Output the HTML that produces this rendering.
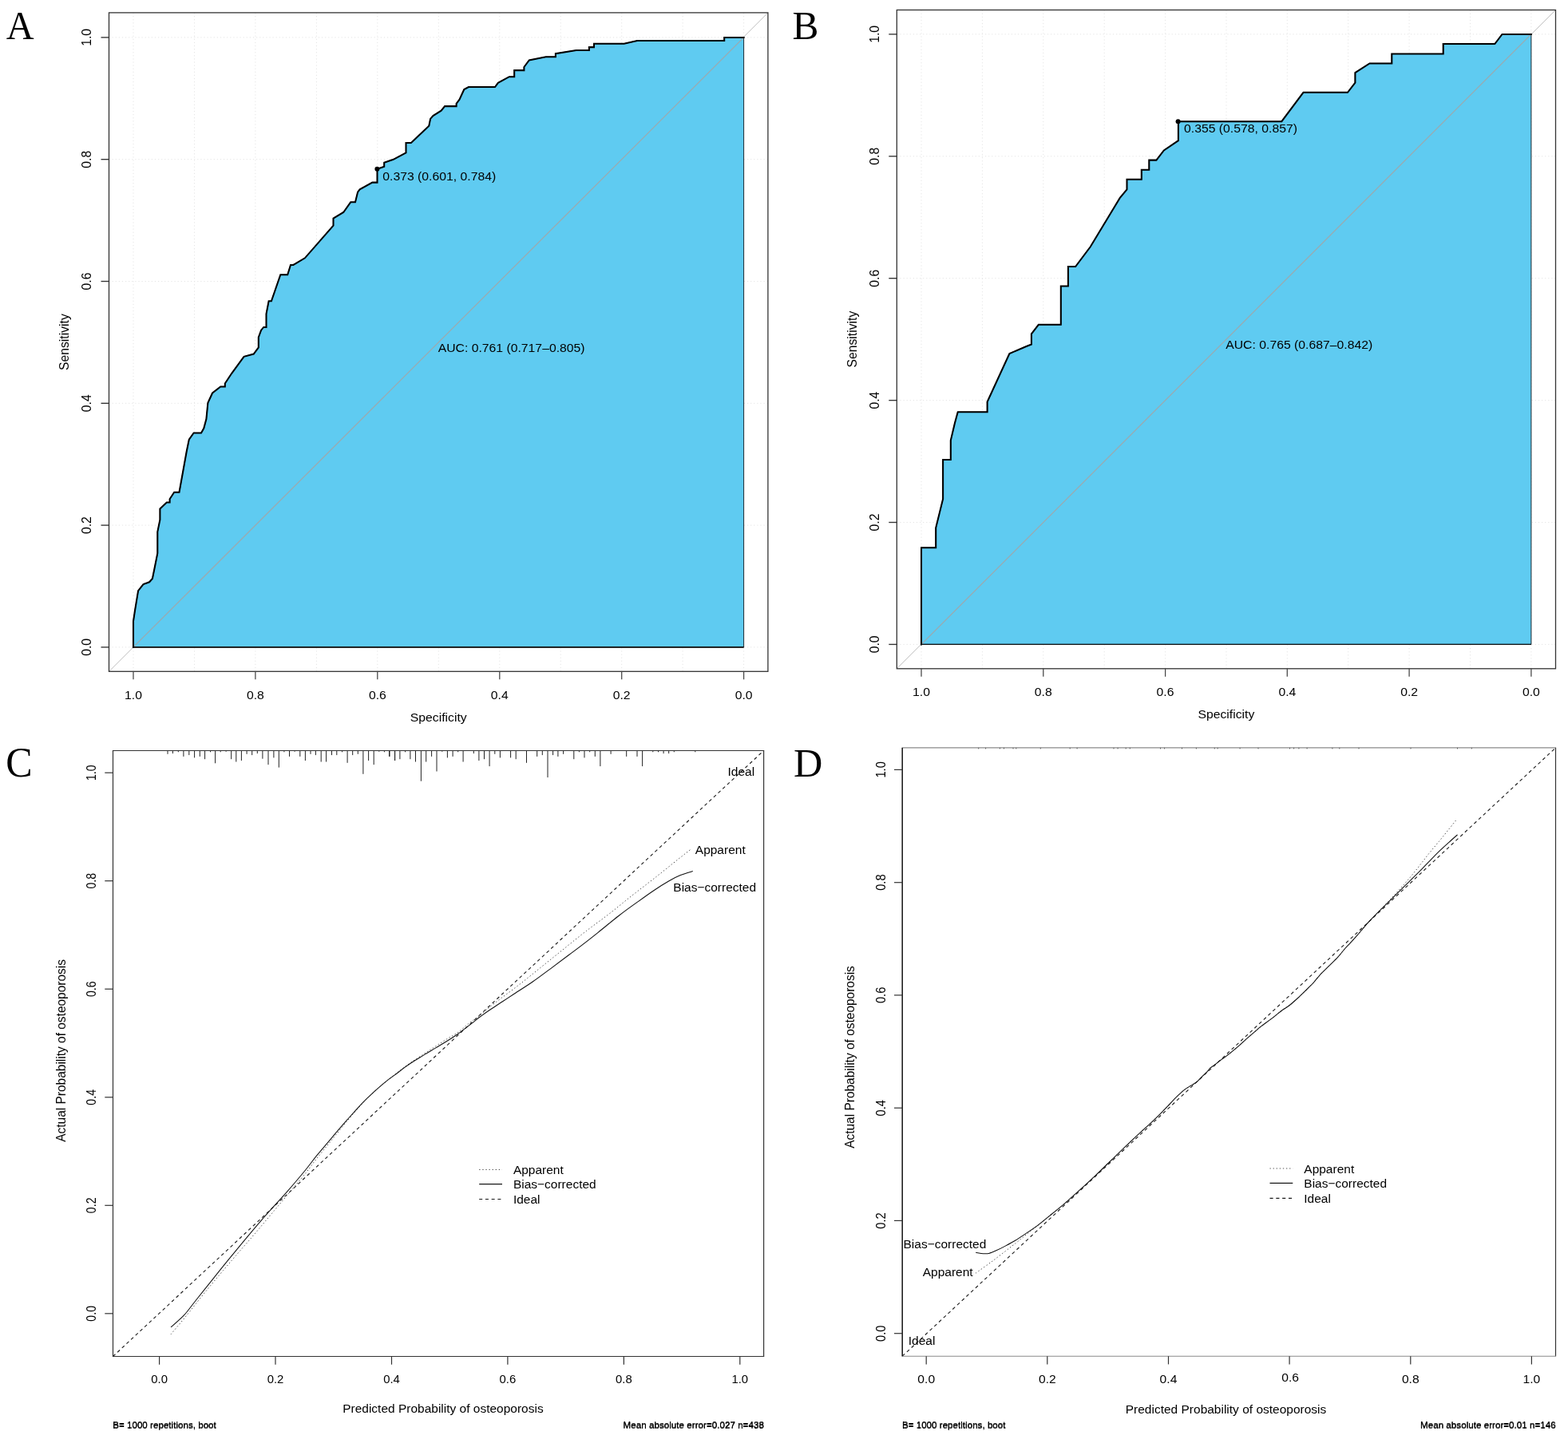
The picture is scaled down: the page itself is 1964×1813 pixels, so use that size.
<!DOCTYPE html>
<html lang="en">
<head>
<meta charset="utf-8">
<title>ROC curves and calibration plots</title>
<style>
html,body{margin:0;padding:0;background:#fff;}
body{width:1964px;height:1813px;overflow:hidden;}
svg{display:block;}
svg text{white-space:pre;}
</style>
</head>
<body>
<svg width="1964" height="1813" viewBox="0 0 1964 1813" font-family='"Liberation Sans", sans-serif' font-size="15">
<rect width="1964" height="1813" fill="#fff"/>
<g class="roc">
<path d="M167.0 15.9V841.3M243.5 15.9V841.3M319.9 15.9V841.3M396.4 15.9V841.3M472.8 15.9V841.3M549.3 15.9V841.3M625.8 15.9V841.3M702.2 15.9V841.3M778.7 15.9V841.3M855.1 15.9V841.3M931.6 15.9V841.3M136.5 810.9H961.9M136.5 658.1H961.9M136.5 505.3H961.9M136.5 352.5H961.9M136.5 199.7H961.9M136.5 46.9H961.9" stroke="#e4e4e4" stroke-width="1" stroke-dasharray="1.2 2.9" fill="none"/>
<line x1="136.5" y1="841.3" x2="961.9" y2="15.9" stroke="#bdbdbd" stroke-width="0.95"/>
<polygon points="167.0,810.9 167.0,778.4 169.3,763.1 173.1,740.2 179.5,732.1 187.1,729.3 190.9,725.0 193.5,712.2 197.3,693.1 197.3,666.4 200.4,651.1 200.4,637.4 208.8,629.5 212.6,629.5 212.6,625.2 218.2,616.8 224.5,616.8 229.1,591.3 233.7,565.8 236.8,550.6 242.6,542.4 252.0,542.4 255.3,536.6 258.4,525.1 260.4,504.7 266.0,492.5 276.2,484.4 281.8,484.4 281.8,480.5 290.2,467.8 305.5,446.8 317.7,443.5 323.8,435.3 323.8,422.6 327.1,413.7 330.2,409.9 333.5,409.9 333.5,393.3 336.6,377.3 339.9,377.3 351.3,344.2 360.2,344.2 364.0,332.0 367.4,332.0 381.9,323.3 417.5,282.6 417.5,273.7 430.2,266.0 439.2,253.3 445.0,253.3 448.1,240.6 450.6,237.3 466.4,228.6 472.5,228.6 472.5,211.8 481.2,208.8 481.2,203.7 492.7,199.8 508.5,191.4 508.5,179.0 514.9,179.0 537.3,157.8 539.1,148.9 542.4,145.1 552.6,138.7 557.1,133.1 571.6,133.1 571.6,129.8 575.5,124.7 581.3,112.0 586.9,109.0 620.0,109.0 623.8,103.9 637.8,96.2 644.2,96.2 644.2,88.1 656.4,88.1 656.4,84.0 662.8,75.4 683.7,71.3 695.9,71.3 695.9,67.2 721.8,62.9 737.9,62.9 737.9,59.1 744.0,59.1 744.0,54.7 781.7,54.7 798.2,50.9 907.2,50.9 907.2,46.9 931.6,46.9 931.6,810.9" fill="#5fcbf1" stroke="#1a2a33" stroke-width="1"/>
<line x1="167.0" y1="810.9" x2="931.6" y2="46.9" stroke="#9aaab0" stroke-width="1.3"/>
<line x1="167.0" y1="810.9" x2="931.6" y2="810.9" stroke="#111" stroke-width="1.6"/>
<polyline points="167.0,810.9 167.0,778.4 169.3,763.1 173.1,740.2 179.5,732.1 187.1,729.3 190.9,725.0 193.5,712.2 197.3,693.1 197.3,666.4 200.4,651.1 200.4,637.4 208.8,629.5 212.6,629.5 212.6,625.2 218.2,616.8 224.5,616.8 229.1,591.3 233.7,565.8 236.8,550.6 242.6,542.4 252.0,542.4 255.3,536.6 258.4,525.1 260.4,504.7 266.0,492.5 276.2,484.4 281.8,484.4 281.8,480.5 290.2,467.8 305.5,446.8 317.7,443.5 323.8,435.3 323.8,422.6 327.1,413.7 330.2,409.9 333.5,409.9 333.5,393.3 336.6,377.3 339.9,377.3 351.3,344.2 360.2,344.2 364.0,332.0 367.4,332.0 381.9,323.3 417.5,282.6 417.5,273.7 430.2,266.0 439.2,253.3 445.0,253.3 448.1,240.6 450.6,237.3 466.4,228.6 472.5,228.6 472.5,211.8 481.2,208.8 481.2,203.7 492.7,199.8 508.5,191.4 508.5,179.0 514.9,179.0 537.3,157.8 539.1,148.9 542.4,145.1 552.6,138.7 557.1,133.1 571.6,133.1 571.6,129.8 575.5,124.7 581.3,112.0 586.9,109.0 620.0,109.0 623.8,103.9 637.8,96.2 644.2,96.2 644.2,88.1 656.4,88.1 656.4,84.0 662.8,75.4 683.7,71.3 695.9,71.3 695.9,67.2 721.8,62.9 737.9,62.9 737.9,59.1 744.0,59.1 744.0,54.7 781.7,54.7 798.2,50.9 907.2,50.9 907.2,46.9 931.6,46.9" fill="none" stroke="#000" stroke-width="2.05" stroke-linejoin="miter" stroke-linecap="square"/>
<rect x="136.5" y="15.9" width="825.4" height="825.4" fill="none" stroke="#333" stroke-width="1.3"/>
<line x1="167.0" y1="841.3" x2="167.0" y2="851.3" stroke="#444" stroke-width="1.25"/>
<text transform="translate(167.00 875.90) scale(1.0170 1)" font-size="15.5" text-anchor="middle" fill="#000">1.0</text>
<line x1="319.9" y1="841.3" x2="319.9" y2="851.3" stroke="#444" stroke-width="1.25"/>
<text transform="translate(319.92 875.90) scale(1.0170 1)" font-size="15.5" text-anchor="middle" fill="#000">0.8</text>
<line x1="472.8" y1="841.3" x2="472.8" y2="851.3" stroke="#444" stroke-width="1.25"/>
<text transform="translate(472.84 875.90) scale(1.0170 1)" font-size="15.5" text-anchor="middle" fill="#000">0.6</text>
<line x1="625.8" y1="841.3" x2="625.8" y2="851.3" stroke="#444" stroke-width="1.25"/>
<text transform="translate(625.76 875.90) scale(1.0170 1)" font-size="15.5" text-anchor="middle" fill="#000">0.4</text>
<line x1="778.7" y1="841.3" x2="778.7" y2="851.3" stroke="#444" stroke-width="1.25"/>
<text transform="translate(778.68 875.90) scale(1.0170 1)" font-size="15.5" text-anchor="middle" fill="#000">0.2</text>
<line x1="931.6" y1="841.3" x2="931.6" y2="851.3" stroke="#444" stroke-width="1.25"/>
<text transform="translate(931.60 875.90) scale(1.0170 1)" font-size="15.5" text-anchor="middle" fill="#000">0.0</text>
<line x1="126.5" y1="810.9" x2="136.5" y2="810.9" stroke="#333" stroke-width="1.35"/>
<text transform="translate(114.00 810.90) rotate(-90) scale(0.9850 1)" font-size="16.0" text-anchor="middle" fill="#000">0.0</text>
<line x1="126.5" y1="658.1" x2="136.5" y2="658.1" stroke="#333" stroke-width="1.35"/>
<text transform="translate(114.00 658.10) rotate(-90) scale(0.9850 1)" font-size="16.0" text-anchor="middle" fill="#000">0.2</text>
<line x1="126.5" y1="505.3" x2="136.5" y2="505.3" stroke="#333" stroke-width="1.35"/>
<text transform="translate(114.00 505.30) rotate(-90) scale(0.9850 1)" font-size="16.0" text-anchor="middle" fill="#000">0.4</text>
<line x1="126.5" y1="352.5" x2="136.5" y2="352.5" stroke="#333" stroke-width="1.35"/>
<text transform="translate(114.00 352.50) rotate(-90) scale(0.9850 1)" font-size="16.0" text-anchor="middle" fill="#000">0.6</text>
<line x1="126.5" y1="199.7" x2="136.5" y2="199.7" stroke="#333" stroke-width="1.35"/>
<text transform="translate(114.00 199.70) rotate(-90) scale(0.9850 1)" font-size="16.0" text-anchor="middle" fill="#000">0.8</text>
<line x1="126.5" y1="46.9" x2="136.5" y2="46.9" stroke="#333" stroke-width="1.35"/>
<text transform="translate(114.00 46.90) rotate(-90) scale(0.9850 1)" font-size="16.0" text-anchor="middle" fill="#000">1.0</text>
<text transform="translate(549.20 903.80) scale(1.0170 1)" font-size="15.5" text-anchor="middle" fill="#000">Specificity</text>
<text transform="translate(86.30 428.60) rotate(-90) scale(0.9850 1)" font-size="16.0" text-anchor="middle" fill="#000">Sensitivity</text>
<circle cx="472.4" cy="211.8" r="3.0" fill="#000"/>
<text transform="translate(479.30 226.00) scale(1.0170 1)" font-size="15.5" fill="#000">0.373 (0.601, 0.784)</text>
<text transform="translate(640.60 440.60) scale(1.0170 1)" font-size="15.5" text-anchor="middle" fill="#000">AUC: 0.761 (0.717–0.805)</text>
</g>
<g class="roc">
<path d="M1154.0 12.5V837.8M1230.4 12.5V837.8M1306.8 12.5V837.8M1383.2 12.5V837.8M1459.6 12.5V837.8M1536.0 12.5V837.8M1612.3 12.5V837.8M1688.7 12.5V837.8M1765.1 12.5V837.8M1841.5 12.5V837.8M1917.9 12.5V837.8M1123.3 807.4H1948.5M1123.3 654.5H1948.5M1123.3 501.6H1948.5M1123.3 348.7H1948.5M1123.3 195.8H1948.5M1123.3 42.9H1948.5" stroke="#e4e4e4" stroke-width="1" stroke-dasharray="1.2 2.9" fill="none"/>
<line x1="1123.3" y1="837.8" x2="1948.5" y2="12.5" stroke="#bdbdbd" stroke-width="0.95"/>
<polygon points="1154.0,807.4 1154.0,686.3 1172.2,686.3 1172.2,661.3 1181.1,625.2 1181.1,576.0 1190.8,576.0 1190.8,551.8 1195.9,530.2 1199.7,516.2 1236.6,516.2 1236.6,503.5 1264.4,443.0 1285.5,434.0 1291.9,431.5 1291.9,418.3 1300.8,406.8 1328.8,406.8 1328.8,358.5 1337.9,358.5 1337.9,334.0 1347.1,334.0 1365.7,309.3 1402.6,248.2 1411.5,237.3 1411.5,224.8 1429.8,224.8 1429.8,212.8 1439.3,212.8 1439.3,200.6 1448.4,200.6 1457.8,188.4 1475.9,176.2 1475.9,152.2 1605.3,152.2 1632.5,115.8 1688.0,115.8 1697.4,103.6 1697.4,91.1 1715.5,79.4 1743.3,79.4 1743.3,67.5 1807.7,67.5 1807.7,55.0 1872.3,55.0 1881.5,42.9 1917.9,42.9 1917.9,807.4" fill="#5fcbf1" stroke="#1a2a33" stroke-width="1"/>
<line x1="1154.0" y1="807.4" x2="1917.9" y2="42.9" stroke="#9aaab0" stroke-width="1.3"/>
<line x1="1154.0" y1="807.4" x2="1917.9" y2="807.4" stroke="#111" stroke-width="1.2"/>
<polyline points="1154.0,807.4 1154.0,686.3 1172.2,686.3 1172.2,661.3 1181.1,625.2 1181.1,576.0 1190.8,576.0 1190.8,551.8 1195.9,530.2 1199.7,516.2 1236.6,516.2 1236.6,503.5 1264.4,443.0 1285.5,434.0 1291.9,431.5 1291.9,418.3 1300.8,406.8 1328.8,406.8 1328.8,358.5 1337.9,358.5 1337.9,334.0 1347.1,334.0 1365.7,309.3 1402.6,248.2 1411.5,237.3 1411.5,224.8 1429.8,224.8 1429.8,212.8 1439.3,212.8 1439.3,200.6 1448.4,200.6 1457.8,188.4 1475.9,176.2 1475.9,152.2 1605.3,152.2 1632.5,115.8 1688.0,115.8 1697.4,103.6 1697.4,91.1 1715.5,79.4 1743.3,79.4 1743.3,67.5 1807.7,67.5 1807.7,55.0 1872.3,55.0 1881.5,42.9 1917.9,42.9" fill="none" stroke="#000" stroke-width="2.05" stroke-linejoin="miter" stroke-linecap="square"/>
<rect x="1123.3" y="12.5" width="825.2" height="825.3" fill="none" stroke="#333" stroke-width="1.3"/>
<line x1="1154.0" y1="837.8" x2="1154.0" y2="847.8" stroke="#444" stroke-width="1.25"/>
<text transform="translate(1154.00 872.40) scale(1.0170 1)" font-size="15.5" text-anchor="middle" fill="#000">1.0</text>
<line x1="1306.8" y1="837.8" x2="1306.8" y2="847.8" stroke="#444" stroke-width="1.25"/>
<text transform="translate(1306.78 872.40) scale(1.0170 1)" font-size="15.5" text-anchor="middle" fill="#000">0.8</text>
<line x1="1459.6" y1="837.8" x2="1459.6" y2="847.8" stroke="#444" stroke-width="1.25"/>
<text transform="translate(1459.56 872.40) scale(1.0170 1)" font-size="15.5" text-anchor="middle" fill="#000">0.6</text>
<line x1="1612.3" y1="837.8" x2="1612.3" y2="847.8" stroke="#444" stroke-width="1.25"/>
<text transform="translate(1612.34 872.40) scale(1.0170 1)" font-size="15.5" text-anchor="middle" fill="#000">0.4</text>
<line x1="1765.1" y1="837.8" x2="1765.1" y2="847.8" stroke="#444" stroke-width="1.25"/>
<text transform="translate(1765.12 872.40) scale(1.0170 1)" font-size="15.5" text-anchor="middle" fill="#000">0.2</text>
<line x1="1917.9" y1="837.8" x2="1917.9" y2="847.8" stroke="#444" stroke-width="1.25"/>
<text transform="translate(1917.90 872.40) scale(1.0170 1)" font-size="15.5" text-anchor="middle" fill="#000">0.0</text>
<line x1="1113.3" y1="807.4" x2="1123.3" y2="807.4" stroke="#333" stroke-width="1.35"/>
<text transform="translate(1100.80 807.40) rotate(-90) scale(0.9850 1)" font-size="16.0" text-anchor="middle" fill="#000">0.0</text>
<line x1="1113.3" y1="654.5" x2="1123.3" y2="654.5" stroke="#333" stroke-width="1.35"/>
<text transform="translate(1100.80 654.50) rotate(-90) scale(0.9850 1)" font-size="16.0" text-anchor="middle" fill="#000">0.2</text>
<line x1="1113.3" y1="501.6" x2="1123.3" y2="501.6" stroke="#333" stroke-width="1.35"/>
<text transform="translate(1100.80 501.60) rotate(-90) scale(0.9850 1)" font-size="16.0" text-anchor="middle" fill="#000">0.4</text>
<line x1="1113.3" y1="348.7" x2="1123.3" y2="348.7" stroke="#333" stroke-width="1.35"/>
<text transform="translate(1100.80 348.70) rotate(-90) scale(0.9850 1)" font-size="16.0" text-anchor="middle" fill="#000">0.6</text>
<line x1="1113.3" y1="195.8" x2="1123.3" y2="195.8" stroke="#333" stroke-width="1.35"/>
<text transform="translate(1100.80 195.80) rotate(-90) scale(0.9850 1)" font-size="16.0" text-anchor="middle" fill="#000">0.8</text>
<line x1="1113.3" y1="42.9" x2="1123.3" y2="42.9" stroke="#333" stroke-width="1.35"/>
<text transform="translate(1100.80 42.90) rotate(-90) scale(0.9850 1)" font-size="16.0" text-anchor="middle" fill="#000">1.0</text>
<text transform="translate(1535.90 900.30) scale(1.0170 1)" font-size="15.5" text-anchor="middle" fill="#000">Specificity</text>
<text transform="translate(1073.10 425.15) rotate(-90) scale(0.9850 1)" font-size="16.0" text-anchor="middle" fill="#000">Sensitivity</text>
<circle cx="1475.6" cy="152.3" r="3.0" fill="#000"/>
<text transform="translate(1483.00 166.30) scale(1.0170 1)" font-size="15.5" fill="#000">0.355 (0.578, 0.857)</text>
<text transform="translate(1627.20 436.80) scale(1.0170 1)" font-size="15.5" text-anchor="middle" fill="#000">AUC: 0.765 (0.687–0.842)</text>
</g>
<g class="cal">
<path d="M210.0 940.5v4.3M216.4 940.5v3.6M223.3 940.5v1.8M229.9 940.5v7.4M236.8 940.5v5.6M243.6 940.5v8.9M250.3 940.5v7.4M256.6 940.5v10.7M263.5 940.5v1.8M269.6 940.5v15.8M276.2 940.5v1.8M283.1 940.5v1.3M289.7 940.5v10.7M295.8 940.5v14.0M302.4 940.5v12.5M309.1 940.5v4.3M315.7 940.5v5.6M322.3 940.5v3.6M328.9 940.5v10.2M336.0 940.5v17.6M342.9 940.5v8.9M349.3 940.5v21.1M355.9 940.5v1.8M362.5 940.5v7.4M369.1 940.5v1.3M375.8 940.5v7.4M382.4 940.5v12.5M389.0 940.5v4.3M395.4 940.5v5.6M402.2 940.5v14.0M408.6 940.5v14.0M415.5 940.5v5.6M421.8 940.5v5.6M428.5 940.5v1.8M435.1 940.5v15.3M441.7 940.5v5.6M448.3 940.5v4.3M454.9 940.5v29.3M461.6 940.5v12.5M468.2 940.5v17.6M474.8 940.5v1.3M481.4 940.5v1.8M488.0 940.5v7.4M494.7 940.5v12.5M487.6 940.5v7.4M494.5 940.5v12.5M500.9 940.5v10.7M507.5 940.5v1.8M513.9 940.5v10.7M520.5 940.5v14.0M527.4 940.5v38.2M533.7 940.5v14.0M540.6 940.5v7.4M547.0 940.5v26.0M553.8 940.5v1.3M560.4 940.5v8.9M567.1 940.5v7.4M573.7 940.5v1.8M580.1 940.5v14.0M593.3 940.5v3.6M599.9 940.5v12.5M606.5 940.5v10.7M613.1 940.5v19.6M619.8 940.5v4.3M626.4 940.5v8.9M639.6 940.5v8.9M646.2 940.5v10.7M659.5 940.5v15.3M672.7 940.5v7.4M679.3 940.5v5.6M686.0 940.5v33.6M692.6 940.5v5.6M698.9 940.5v7.4M705.6 940.5v4.3M718.8 940.5v10.7M725.4 940.5v1.8M732.0 940.5v8.9M738.7 940.5v1.8M745.3 940.5v7.4M751.9 940.5v19.6M765.1 940.5v4.3M784.7 940.5v7.4M798.0 940.5v7.4M804.6 940.5v19.6M817.8 940.5v1.8M824.5 940.5v1.8M831.1 940.5v3.6M837.7 940.5v3.6M844.3 940.5v1.8M870.8 940.5v1.8" stroke="#222" stroke-width="1" fill="none"/>
<line x1="141.5" y1="1699.5" x2="956.6" y2="940.5" stroke="#1a1a1a" stroke-width="1.1" stroke-dasharray="4.0 3.73" stroke-dashoffset="0"/>
<path d="M214.1 1671.7C217.0 1668.2 223.9 1660.2 231.4 1651.0C238.9 1641.8 248.9 1628.7 258.9 1616.5C268.9 1604.3 282.2 1588.7 291.4 1577.9C300.6 1567.1 306.6 1560.4 314.1 1551.7C321.6 1543.0 328.9 1534.2 336.2 1525.5C343.5 1516.8 350.4 1508.6 358.2 1499.3C366.0 1490.0 376.6 1477.5 383.0 1469.6C389.4 1461.7 391.2 1458.4 396.5 1451.7C401.8 1445.0 408.1 1437.5 414.5 1429.6C420.9 1421.7 428.5 1412.0 435.2 1404.1C441.9 1396.2 449.0 1388.0 454.5 1382.0C460.0 1376.0 463.5 1372.7 468.3 1368.2C473.1 1363.7 476.3 1360.8 483.4 1355.1C490.5 1349.4 502.9 1339.6 511.0 1333.8C519.0 1328.0 526.0 1323.8 531.7 1320.0C537.5 1316.2 540.9 1314.0 545.5 1311.0C550.1 1308.0 554.7 1305.0 559.3 1302.1C563.9 1299.2 568.5 1297.0 573.1 1293.8C577.7 1290.6 582.2 1286.3 586.8 1282.7C591.4 1279.1 595.1 1276.8 600.6 1272.4C606.1 1268.0 612.0 1262.7 620.0 1256.5C628.0 1250.3 639.1 1242.4 648.7 1235.0C658.3 1227.6 667.9 1219.8 677.4 1212.1C686.9 1204.4 696.5 1196.8 706.0 1189.1C715.5 1181.4 725.1 1173.6 734.7 1166.2C744.3 1158.8 753.8 1152.1 763.4 1144.7C773.0 1137.3 782.5 1129.2 792.1 1121.7C801.7 1114.2 811.2 1107.0 820.8 1099.5C830.4 1092.0 842.0 1082.4 849.5 1076.5C857.0 1070.6 862.9 1066.0 865.6 1063.9" fill="none" stroke="#333" stroke-width="0.95" stroke-dasharray="1.3 2.8"/>
<path d="M214.1 1662.9C216.8 1660.5 225.5 1653.2 230.2 1648.2C234.9 1643.2 237.8 1638.8 242.4 1633.0C247.0 1627.2 250.7 1622.6 258.0 1613.4C265.4 1604.2 274.9 1592.1 286.5 1577.9C298.1 1563.7 315.7 1542.4 327.9 1528.3C340.1 1514.2 350.4 1503.6 359.6 1493.1C368.8 1482.6 376.9 1473.0 383.0 1465.5C389.1 1458.0 391.2 1454.7 396.5 1448.2C401.8 1441.8 408.1 1434.4 414.5 1426.8C420.9 1419.2 428.5 1410.3 435.2 1402.7C441.9 1395.1 449.0 1387.0 454.5 1381.3C460.0 1375.5 463.5 1372.6 468.3 1368.2C473.1 1363.8 479.0 1358.6 483.4 1355.1C487.8 1351.5 489.9 1350.3 494.5 1346.9C499.1 1343.5 504.8 1338.8 511.0 1334.5C517.2 1330.2 526.0 1325.0 531.7 1321.4C537.5 1317.8 540.9 1315.9 545.5 1313.1C550.1 1310.3 554.7 1307.7 559.3 1304.8C563.9 1301.9 567.8 1299.6 573.1 1295.8C578.4 1292.0 586.4 1285.6 591.0 1282.1C595.6 1278.5 596.7 1277.4 600.6 1274.5C604.5 1271.6 609.5 1268.1 614.4 1264.8C619.3 1261.5 625.0 1257.8 630.0 1254.5C635.0 1251.2 638.2 1249.1 644.4 1245.0C650.6 1240.9 659.4 1235.5 667.3 1230.0C675.2 1224.5 684.3 1217.6 691.7 1212.1C699.1 1206.6 705.6 1201.7 711.8 1197.0C718.0 1192.3 722.8 1188.9 729.0 1184.1C735.2 1179.3 741.5 1174.4 749.1 1168.3C756.8 1162.2 766.5 1154.0 774.9 1147.5C783.3 1141.0 791.6 1135.1 799.3 1129.6C806.9 1124.1 814.3 1118.8 820.8 1114.5C827.2 1110.2 832.8 1106.8 838.0 1103.8C843.2 1100.8 847.3 1098.6 852.3 1096.6C857.3 1094.6 865.2 1092.4 867.8 1091.6" fill="none" stroke="#111" stroke-width="1.05" stroke-linejoin="round"/>
<line x1="140.9" y1="940.5" x2="957.2" y2="940.5" stroke="#333" stroke-width="1.2"/>
<line x1="956.6" y1="940.5" x2="956.6" y2="1699.5" stroke="#333" stroke-width="1.2"/>
<line x1="140.9" y1="1699.5" x2="957.2" y2="1699.5" stroke="#333" stroke-width="1.2"/>
<line x1="141.5" y1="940.5" x2="141.5" y2="1699.5" stroke="#333" stroke-width="1.2"/>
<line x1="199.6" y1="1699.5" x2="199.6" y2="1709.7" stroke="#333" stroke-width="1.2"/>
<text transform="translate(199.60 1733.10) scale(0.9800 1)" font-size="15.2" text-anchor="middle" fill="#000">0.0</text>
<line x1="131.3" y1="1645.8" x2="141.5" y2="1645.8" stroke="#333" stroke-width="1.2"/>
<text transform="translate(119.70 1645.80) rotate(-90) scale(0.9000 1)" font-size="15.8" text-anchor="middle" fill="#000">0.0</text>
<line x1="345.0" y1="1699.5" x2="345.0" y2="1709.7" stroke="#333" stroke-width="1.2"/>
<text transform="translate(345.04 1733.10) scale(0.9800 1)" font-size="15.2" text-anchor="middle" fill="#000">0.2</text>
<line x1="131.3" y1="1510.3" x2="141.5" y2="1510.3" stroke="#333" stroke-width="1.2"/>
<text transform="translate(119.70 1510.28) rotate(-90) scale(0.9000 1)" font-size="15.8" text-anchor="middle" fill="#000">0.2</text>
<line x1="490.5" y1="1699.5" x2="490.5" y2="1709.7" stroke="#333" stroke-width="1.2"/>
<text transform="translate(490.48 1733.10) scale(0.9800 1)" font-size="15.2" text-anchor="middle" fill="#000">0.4</text>
<line x1="131.3" y1="1374.8" x2="141.5" y2="1374.8" stroke="#333" stroke-width="1.2"/>
<text transform="translate(119.70 1374.76) rotate(-90) scale(0.9000 1)" font-size="15.8" text-anchor="middle" fill="#000">0.4</text>
<line x1="635.9" y1="1699.5" x2="635.9" y2="1709.7" stroke="#333" stroke-width="1.2"/>
<text transform="translate(635.92 1733.10) scale(0.9800 1)" font-size="15.2" text-anchor="middle" fill="#000">0.6</text>
<line x1="131.3" y1="1239.2" x2="141.5" y2="1239.2" stroke="#333" stroke-width="1.2"/>
<text transform="translate(119.70 1239.24) rotate(-90) scale(0.9000 1)" font-size="15.8" text-anchor="middle" fill="#000">0.6</text>
<line x1="781.4" y1="1699.5" x2="781.4" y2="1709.7" stroke="#333" stroke-width="1.2"/>
<text transform="translate(781.36 1733.10) scale(0.9800 1)" font-size="15.2" text-anchor="middle" fill="#000">0.8</text>
<line x1="131.3" y1="1103.7" x2="141.5" y2="1103.7" stroke="#333" stroke-width="1.2"/>
<text transform="translate(119.70 1103.72) rotate(-90) scale(0.9000 1)" font-size="15.8" text-anchor="middle" fill="#000">0.8</text>
<line x1="926.8" y1="1699.5" x2="926.8" y2="1709.7" stroke="#333" stroke-width="1.2"/>
<text transform="translate(926.80 1733.10) scale(0.9800 1)" font-size="15.2" text-anchor="middle" fill="#000">1.0</text>
<line x1="131.3" y1="968.2" x2="141.5" y2="968.2" stroke="#333" stroke-width="1.2"/>
<text transform="translate(119.70 968.20) rotate(-90) scale(0.9000 1)" font-size="15.8" text-anchor="middle" fill="#000">1.0</text>
<text transform="translate(554.90 1770.40) scale(1.0200 1)" font-size="15.2" text-anchor="middle" fill="#000">Predicted Probability of osteoporosis</text>
<text transform="translate(82.20 1316.40) rotate(-90) scale(0.9800 1)" font-size="15.8" text-anchor="middle" fill="#000">Actual Probability of osteoporosis</text>
<text transform="translate(141.20 1790.00) scale(0.9950 1)" font-size="11.7" fill="#000">B= 1000 repetitions, boot</text>
<text transform="translate(956.90 1790.00) scale(0.9980 1)" font-size="11.7" text-anchor="end" fill="#000">Mean absolute error=0.027 n=438</text>
<text transform="translate(141.20 1789.10) scale(0.9950 1)" font-size="11.7" fill="#000">B= 1000 repetitions, boot</text>
<text transform="translate(956.90 1789.10) scale(0.9980 1)" font-size="11.7" text-anchor="end" fill="#000">Mean absolute error=0.027 n=438</text>
<text transform="translate(911.50 972.00) scale(1.0200 1)" font-size="15.2" fill="#000">Ideal</text>
<text transform="translate(870.80 1069.80) scale(1.0200 1)" font-size="15.2" fill="#000">Apparent</text>
<text transform="translate(843.30 1117.20) scale(1.0200 1)" font-size="15.2" fill="#000">Bias−corrected</text>
<line x1="600.2" y1="1465.5" x2="629.0" y2="1465.5" stroke="#333" stroke-width="0.9" stroke-dasharray="1.3 2.8"/>
<line x1="600.2" y1="1483.6" x2="629.0" y2="1483.6" stroke="#111" stroke-width="1.2"/>
<line x1="600.2" y1="1502.5" x2="629.0" y2="1502.5" stroke="#1a1a1a" stroke-width="1.2" stroke-dasharray="4.0 3.73"/>
<text transform="translate(642.90 1471.10) scale(1.0200 1)" font-size="15.2" fill="#000">Apparent</text>
<text transform="translate(642.90 1489.20) scale(1.0200 1)" font-size="15.2" fill="#000">Bias−corrected</text>
<text transform="translate(642.90 1508.10) scale(1.0200 1)" font-size="15.2" fill="#000">Ideal</text>
</g>
<g class="cal">
<path d="M1225.7 936.9v1.4M1234.6 936.9v1.4M1252.4 936.9v1.4M1257.5 936.9v1.4M1269.0 936.9v1.4M1272.8 936.9v1.4M1303.3 936.9v1.4M1340.2 936.9v1.4M1349.1 936.9v1.4M1395.0 936.9v1.4M1400.1 936.9v1.4M1410.2 936.9v1.4M1415.3 936.9v1.4M1453.5 936.9v1.4M1458.6 936.9v1.4M1480.5 936.9v1.4M1498.4 936.9v1.4M1521.3 936.9v1.4M1525.1 936.9v1.4M1553.1 936.9v1.4M1576.0 936.9v1.4M1615.5 936.9v1.4M1620.6 936.9v1.4M1626.9 936.9v1.4M1637.1 936.9v1.4M1668.9 936.9v1.4M1677.8 936.9v1.4M1702.0 936.9v1.4M1767.0 936.9v1.4M1825.5 936.9v1.4M1843.3 936.9v1.4" stroke="#222" stroke-width="1" fill="none"/>
<line x1="1130.2" y1="1699.2" x2="1948.5" y2="936.9" stroke="#1a1a1a" stroke-width="1.1" stroke-dasharray="4.1 3.73" stroke-dashoffset="0"/>
<path d="M1222.2 1595.1C1225.7 1592.6 1236.0 1585.4 1243.0 1580.1C1250.0 1574.9 1259.2 1567.7 1264.5 1563.6C1269.8 1559.5 1271.0 1558.5 1274.6 1555.7C1278.2 1552.8 1281.7 1549.9 1286.0 1546.5C1290.3 1543.0 1295.6 1539.0 1300.4 1535.1C1305.2 1531.3 1309.9 1527.2 1314.7 1523.3C1319.5 1519.4 1324.3 1515.8 1329.1 1511.7C1333.9 1507.7 1338.6 1503.3 1343.4 1499.1C1348.2 1494.8 1353.0 1490.5 1357.8 1486.2C1362.6 1481.8 1367.3 1477.4 1372.1 1472.9C1376.9 1468.3 1381.6 1463.7 1386.4 1459.0C1391.2 1454.4 1396.0 1449.7 1400.8 1445.1C1405.6 1440.5 1410.3 1435.9 1415.1 1431.3C1419.9 1426.7 1424.7 1422.2 1429.5 1417.8C1434.3 1413.4 1439.5 1408.8 1443.8 1404.8C1448.0 1400.8 1451.8 1397.1 1455.0 1393.8C1458.2 1390.6 1460.7 1388.0 1463.2 1385.4C1465.7 1382.8 1467.5 1380.6 1470.0 1378.1C1472.5 1375.5 1476.2 1372.0 1478.5 1369.8C1480.8 1367.7 1482.1 1366.6 1483.9 1365.2C1485.7 1363.8 1487.4 1362.7 1489.3 1361.6C1491.2 1360.4 1493.2 1359.6 1495.1 1358.3C1497.0 1357.0 1499.0 1355.6 1500.9 1353.9C1502.8 1352.1 1504.8 1349.8 1506.7 1347.9C1508.6 1345.9 1511.0 1343.9 1512.5 1342.3C1514.0 1340.6 1514.5 1339.4 1515.8 1338.2C1517.1 1337.0 1517.9 1336.8 1520.2 1335.1C1522.5 1333.3 1527.1 1329.8 1529.8 1327.7C1532.5 1325.7 1534.1 1324.7 1536.5 1322.9C1538.9 1321.1 1541.4 1319.1 1544.0 1316.9C1546.6 1314.8 1549.4 1312.4 1552.0 1310.1C1554.6 1307.8 1557.1 1305.4 1559.7 1303.1C1562.3 1300.8 1564.9 1298.6 1567.4 1296.4C1570.0 1294.2 1572.9 1291.6 1575.0 1289.8C1577.1 1288.0 1576.7 1288.1 1580.0 1285.6C1583.3 1283.1 1590.4 1278.1 1594.7 1274.8C1599.0 1271.5 1602.8 1268.0 1606.0 1265.7C1609.2 1263.3 1610.7 1263.0 1614.0 1260.5C1617.3 1258.0 1621.8 1254.0 1625.6 1250.5C1629.4 1247.0 1633.8 1242.6 1637.0 1239.5C1640.2 1236.3 1642.4 1234.4 1645.0 1231.5C1647.6 1228.7 1649.5 1225.7 1652.7 1222.3C1655.9 1218.8 1660.4 1214.6 1664.2 1210.7C1668.0 1206.9 1672.5 1202.7 1675.8 1199.1C1679.1 1195.6 1681.3 1192.4 1683.8 1189.5C1686.3 1186.6 1688.3 1184.7 1691.0 1181.8C1693.7 1178.8 1697.3 1174.9 1700.0 1171.9C1702.7 1168.9 1704.5 1166.5 1707.0 1163.6C1709.5 1160.7 1712.1 1157.6 1715.0 1154.4C1717.9 1151.2 1720.5 1148.5 1724.5 1144.4C1728.5 1140.2 1735.3 1133.4 1738.9 1129.7C1742.5 1125.9 1742.4 1126.0 1746.0 1122.0C1749.6 1118.1 1755.6 1111.7 1760.4 1106.1C1765.2 1100.6 1769.9 1094.9 1774.7 1088.9C1779.5 1082.9 1784.3 1076.3 1789.1 1070.3C1793.9 1064.3 1799.1 1058.3 1803.4 1053.1C1807.7 1047.8 1811.6 1042.9 1814.9 1038.8C1818.2 1034.6 1822.1 1029.8 1823.5 1028.0" fill="none" stroke="#333" stroke-width="0.95" stroke-dasharray="1.3 2.8"/>
<path d="M1222.2 1569.3C1223.8 1569.5 1228.8 1570.6 1231.6 1570.7C1234.3 1570.9 1236.1 1571.0 1238.7 1570.4C1241.3 1569.8 1244.2 1568.5 1247.3 1567.1C1250.4 1565.7 1253.3 1564.3 1257.4 1562.1C1261.5 1559.9 1266.9 1557.1 1271.7 1554.2C1276.5 1551.3 1281.2 1548.1 1286.0 1544.9C1290.8 1541.7 1295.6 1538.5 1300.4 1534.9C1305.2 1531.4 1309.9 1527.2 1314.7 1523.3C1319.5 1519.5 1324.3 1515.8 1329.1 1511.7C1333.9 1507.7 1338.6 1503.3 1343.4 1499.1C1348.2 1494.8 1353.0 1490.5 1357.8 1486.2C1362.6 1481.8 1367.3 1477.4 1372.1 1472.9C1376.9 1468.3 1381.6 1463.7 1386.4 1459.0C1391.2 1454.4 1396.0 1449.7 1400.8 1445.1C1405.6 1440.5 1410.3 1435.9 1415.1 1431.3C1419.9 1426.7 1424.7 1422.2 1429.5 1417.8C1434.3 1413.4 1439.5 1408.8 1443.8 1404.8C1448.0 1400.8 1451.8 1397.1 1455.0 1393.8C1458.2 1390.6 1460.7 1388.0 1463.2 1385.4C1465.7 1382.8 1467.5 1380.6 1470.0 1378.1C1472.5 1375.5 1476.2 1372.0 1478.5 1369.8C1480.8 1367.7 1482.1 1366.6 1483.9 1365.2C1485.7 1363.8 1487.4 1362.7 1489.3 1361.6C1491.2 1360.4 1493.2 1359.6 1495.1 1358.3C1497.0 1357.0 1499.0 1355.6 1500.9 1353.9C1502.8 1352.1 1504.8 1349.8 1506.7 1347.9C1508.6 1345.9 1511.0 1343.9 1512.5 1342.3C1514.0 1340.6 1514.5 1339.4 1515.8 1338.2C1517.1 1337.0 1517.9 1336.8 1520.2 1335.1C1522.5 1333.3 1527.1 1329.8 1529.8 1327.7C1532.5 1325.7 1534.1 1324.7 1536.5 1322.9C1538.9 1321.1 1541.4 1319.1 1544.0 1316.9C1546.6 1314.8 1549.4 1312.4 1552.0 1310.1C1554.6 1307.8 1557.1 1305.4 1559.7 1303.1C1562.3 1300.8 1564.9 1298.6 1567.4 1296.4C1570.0 1294.2 1572.9 1291.6 1575.0 1289.8C1577.1 1288.0 1576.7 1288.1 1580.0 1285.6C1583.3 1283.1 1590.4 1278.1 1594.7 1274.8C1599.0 1271.5 1602.8 1268.0 1606.0 1265.7C1609.2 1263.3 1610.7 1263.0 1614.0 1260.5C1617.3 1258.0 1621.8 1254.0 1625.6 1250.5C1629.4 1247.0 1633.8 1242.6 1637.0 1239.5C1640.2 1236.3 1642.4 1234.4 1645.0 1231.5C1647.6 1228.7 1649.5 1225.7 1652.7 1222.3C1655.9 1218.8 1660.4 1214.6 1664.2 1210.7C1668.0 1206.9 1672.5 1202.7 1675.8 1199.1C1679.1 1195.6 1681.3 1192.4 1683.8 1189.5C1686.3 1186.6 1688.3 1184.7 1691.0 1181.8C1693.7 1178.8 1697.3 1174.9 1700.0 1171.9C1702.7 1168.9 1704.5 1166.5 1707.0 1163.6C1709.5 1160.7 1712.1 1157.6 1715.0 1154.4C1717.9 1151.3 1720.5 1148.6 1724.5 1144.6C1728.5 1140.6 1734.4 1134.8 1738.9 1130.4C1743.5 1125.9 1748.2 1121.2 1751.8 1117.6C1755.4 1114.1 1756.6 1112.9 1760.4 1109.1C1764.2 1105.4 1769.9 1100.0 1774.7 1095.2C1779.5 1090.4 1784.3 1085.3 1789.1 1080.4C1793.9 1075.5 1799.1 1070.0 1803.4 1065.9C1807.7 1061.7 1811.2 1058.7 1814.9 1055.4C1818.6 1052.0 1823.8 1047.4 1825.6 1045.8" fill="none" stroke="#111" stroke-width="1.05" stroke-linejoin="round"/>
<line x1="1129.6" y1="936.9" x2="1949.1" y2="936.9" stroke="#8a8a8a" stroke-width="1.1"/>
<line x1="1948.5" y1="936.9" x2="1948.5" y2="1699.2" stroke="#333" stroke-width="1.2"/>
<line x1="1129.6" y1="1699.2" x2="1949.1" y2="1699.2" stroke="#8a8a8a" stroke-width="1.1"/>
<line x1="1130.2" y1="936.9" x2="1130.2" y2="1699.2" stroke="#111" stroke-width="1.5"/>
<line x1="1160.2" y1="1699.2" x2="1160.2" y2="1709.4" stroke="#333" stroke-width="1.2"/>
<text transform="translate(1160.20 1732.60) scale(1.0300 1)" font-size="15.2" text-anchor="middle" fill="#000">0.0</text>
<line x1="1120.0" y1="1670.7" x2="1130.2" y2="1670.7" stroke="#333" stroke-width="1.2"/>
<text transform="translate(1109.00 1670.70) rotate(-90) scale(0.9300 1)" font-size="15.8" text-anchor="middle" fill="#000">0.0</text>
<line x1="1311.8" y1="1699.2" x2="1311.8" y2="1709.4" stroke="#333" stroke-width="1.2"/>
<text transform="translate(1311.84 1732.60) scale(1.0300 1)" font-size="15.2" text-anchor="middle" fill="#000">0.2</text>
<line x1="1120.0" y1="1529.4" x2="1130.2" y2="1529.4" stroke="#333" stroke-width="1.2"/>
<text transform="translate(1109.00 1529.44) rotate(-90) scale(0.9300 1)" font-size="15.8" text-anchor="middle" fill="#000">0.2</text>
<line x1="1463.5" y1="1699.2" x2="1463.5" y2="1709.4" stroke="#333" stroke-width="1.2"/>
<text transform="translate(1463.48 1732.60) scale(1.0300 1)" font-size="15.2" text-anchor="middle" fill="#000">0.4</text>
<line x1="1120.0" y1="1388.2" x2="1130.2" y2="1388.2" stroke="#333" stroke-width="1.2"/>
<text transform="translate(1109.00 1388.18) rotate(-90) scale(0.9300 1)" font-size="15.8" text-anchor="middle" fill="#000">0.4</text>
<line x1="1615.1" y1="1699.2" x2="1615.1" y2="1709.4" stroke="#333" stroke-width="1.2"/>
<text transform="translate(1616.12 1730.60) scale(1.0300 1)" font-size="15.2" text-anchor="middle" fill="#000">0.6</text>
<line x1="1120.0" y1="1246.9" x2="1130.2" y2="1246.9" stroke="#333" stroke-width="1.2"/>
<text transform="translate(1109.00 1246.92) rotate(-90) scale(0.9300 1)" font-size="15.8" text-anchor="middle" fill="#000">0.6</text>
<line x1="1766.8" y1="1699.2" x2="1766.8" y2="1709.4" stroke="#333" stroke-width="1.2"/>
<text transform="translate(1766.76 1732.60) scale(1.0300 1)" font-size="15.2" text-anchor="middle" fill="#000">0.8</text>
<line x1="1120.0" y1="1105.7" x2="1130.2" y2="1105.7" stroke="#333" stroke-width="1.2"/>
<text transform="translate(1109.00 1105.66) rotate(-90) scale(0.9300 1)" font-size="15.8" text-anchor="middle" fill="#000">0.8</text>
<line x1="1918.4" y1="1699.2" x2="1918.4" y2="1709.4" stroke="#333" stroke-width="1.2"/>
<text transform="translate(1918.40 1732.60) scale(1.0300 1)" font-size="15.2" text-anchor="middle" fill="#000">1.0</text>
<line x1="1120.0" y1="964.4" x2="1130.2" y2="964.4" stroke="#333" stroke-width="1.2"/>
<text transform="translate(1109.00 964.40) rotate(-90) scale(0.9300 1)" font-size="15.8" text-anchor="middle" fill="#000">1.0</text>
<text transform="translate(1535.50 1770.60) scale(1.0200 1)" font-size="15.2" text-anchor="middle" fill="#000">Predicted Probability of osteoporosis</text>
<text transform="translate(1070.00 1324.50) rotate(-90) scale(0.9800 1)" font-size="15.8" text-anchor="middle" fill="#000">Actual Probability of osteoporosis</text>
<text transform="translate(1129.90 1790.00) scale(0.9950 1)" font-size="11.7" fill="#000">B= 1000 repetitions, boot</text>
<text transform="translate(1948.80 1790.00) scale(0.9980 1)" font-size="11.7" text-anchor="end" fill="#000">Mean absolute error=0.01 n=146</text>
<text transform="translate(1129.90 1789.10) scale(0.9950 1)" font-size="11.7" fill="#000">B= 1000 repetitions, boot</text>
<text transform="translate(1948.80 1789.10) scale(0.9980 1)" font-size="11.7" text-anchor="end" fill="#000">Mean absolute error=0.01 n=146</text>
<text transform="translate(1131.50 1563.80) scale(1.0200 1)" font-size="15.2" fill="#000">Bias−corrected</text>
<text transform="translate(1155.70 1599.40) scale(1.0200 1)" font-size="15.2" fill="#000">Apparent</text>
<text transform="translate(1137.80 1685.20) scale(1.0200 1)" font-size="15.2" fill="#000">Ideal</text>
<line x1="1590.5" y1="1464.0" x2="1619.3" y2="1464.0" stroke="#8c8c8c" stroke-width="1.4" stroke-dasharray="1.3 2.8"/>
<line x1="1590.5" y1="1482.4" x2="1619.3" y2="1482.4" stroke="#111" stroke-width="1.2"/>
<line x1="1590.5" y1="1501.4" x2="1619.3" y2="1501.4" stroke="#1a1a1a" stroke-width="1.2" stroke-dasharray="4.1 3.73"/>
<text transform="translate(1633.30 1469.60) scale(1.0200 1)" font-size="15.2" fill="#000">Apparent</text>
<text transform="translate(1633.30 1488.00) scale(1.0200 1)" font-size="15.2" fill="#000">Bias−corrected</text>
<text transform="translate(1633.30 1507.00) scale(1.0200 1)" font-size="15.2" fill="#000">Ideal</text>
</g>
<text transform="translate(7.70 49.30) scale(0.9550 1)" font-size="50.6" font-family='"Liberation Serif", serif' fill="#000">A</text>
<text transform="translate(992.60 49.00) scale(0.9750 1)" font-size="50.6" font-family='"Liberation Serif", serif' fill="#000">B</text>
<text transform="translate(7.30 973.00) scale(0.9550 1)" font-size="52.4" font-family='"Liberation Serif", serif' fill="#000">C</text>
<text transform="translate(994.00 972.60) scale(0.9940 1)" font-size="50.6" font-family='"Liberation Serif", serif' fill="#000">D</text>
</svg>
</body>
</html>
